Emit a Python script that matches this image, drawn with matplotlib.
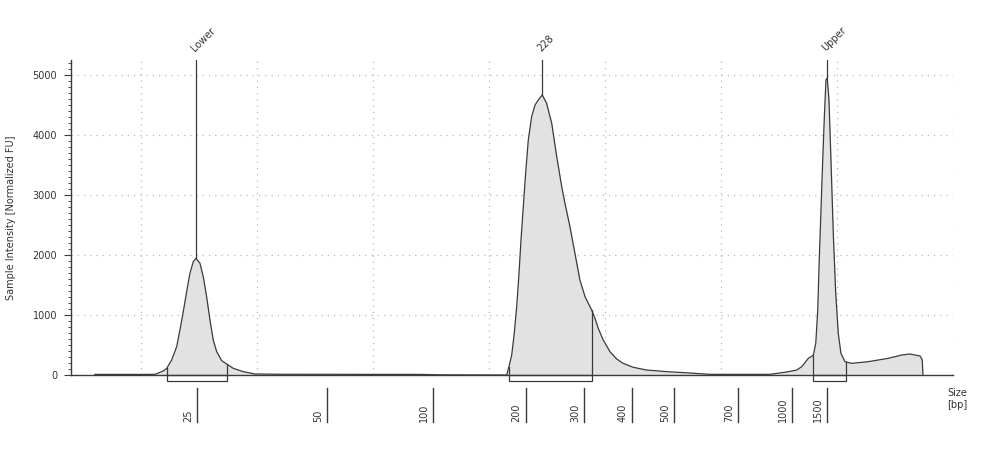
import matplotlib

matplotlib.use("Agg")
import matplotlib.pyplot as plt
import matplotlib.transforms as mtransforms
from matplotlib.patches import Rectangle
import numpy as np

# electropherogram trace: migration position (grid units) vs intensity [Normalized FU]
pos = [0.603, 1.078, 1.121, 1.192, 1.222, 1.265, 1.308, 1.336, 1.365, 1.394,
       1.422, 1.451, 1.474, 1.509, 1.537, 1.566, 1.595, 1.623, 1.653, 1.696,
       1.739, 1.796, 1.882, 1.983, 2.198, 3.405, 3.578, 4.095,
       4.153, 4.172, 4.196, 4.218, 4.239, 4.259, 4.276, 4.296, 4.316, 4.339,
       4.368, 4.397, 4.425, 4.459, 4.497, 4.541, 4.584, 4.627, 4.655, 4.698,
       4.741, 4.784, 4.828, 4.885, 4.914, 4.942, 4.985, 5.043, 5.101, 5.157,
       5.244, 5.359, 5.532, 5.733, 5.905, 6.422, 6.566, 6.653, 6.696, 6.753,
       6.796, 6.817, 6.834, 6.847, 6.862, 6.877, 6.891, 6.905, 6.916, 6.931,
       6.948, 6.968, 6.989, 7.011, 7.034, 7.069, 7.127, 7.270, 7.442, 7.558,
       7.629, 7.716, 7.735, 7.741]
fu = [10, 10, 11, 67, 111, 250, 472, 750, 1056, 1389,
      1694, 1889, 1944, 1861, 1639, 1306, 917, 583, 389, 239,
      183, 111, 56, 17, 12, 10, 3, 0,
      0, 139, 333, 694, 1139, 1694, 2250, 2806, 3361, 3917,
      4306, 4500, 4583, 4667, 4528, 4194, 3639, 3139, 2861, 2472,
      2028, 1583, 1306, 1083, 944, 778, 583, 389, 267, 194,
      128, 83, 56, 33, 11, 11, 50, 83, 139, 278,
      330, 528, 1083, 1917, 2750, 3583, 4306, 4917, 4950, 4583,
      3583, 2361, 1361, 694, 361, 222, 194, 222, 278, 333,
      350, 317, 250, 0]

# size ladder
ladder_bp = ["25", "50", "100", "200", "300", "400", "500", "700", "1000", "1500"]
ladder_pos = [1.483, 2.603, 3.517, 4.316, 4.819, 5.233, 5.595, 6.147, 6.612, 6.914]

# called peaks and their integration regions
peak_names = ["Lower", "228", "Upper"]
peak_pos = [1.474, 4.459, 6.916]
region_lo = [1.222, 4.172, 6.796]
region_hi = [1.739, 4.885, 7.075]

line_c = "#3a3a3a"
text_c = "#333333"
grid_c = "#b8b8b8"
fill_c = "#e2e2e2"

fig = plt.figure(figsize=(9.93, 4.49), dpi=100)
ax = fig.add_axes([71 / 993, 1 - 375 / 449, (953 - 71) / 993, 315 / 449])

ax.set_xlim(0.397, 8.0)
ax.set_ylim(0, 5250)

ax.fill_between(pos, fu, 0, color=fill_c, lw=0, zorder=2)
ax.plot(pos, fu, color=line_c, lw=0.9, zorder=3)

# peak marker lines + labels
top = ax.get_ylim()[1]
for name, p in zip(peak_names, peak_pos):
    y0 = np.interp(p, pos, fu)
    ax.plot([p, p], [y0, top], color=line_c, lw=0.9, zorder=4, clip_on=False)
    tr = mtransforms.offset_copy(ax.transData, fig=fig, x=-7, y=7, units="dots")
    ax.text(p, top, name, rotation=45, ha="left", va="bottom", fontsize=7,
            color=text_c, transform=tr)

# integration regions: bracket under baseline + boundary lines
for lo, hi in zip(region_lo, region_hi):
    ax.add_patch(Rectangle((lo, -100), hi - lo, 100, fill=False, ec=line_c,
                           lw=0.9, clip_on=False, zorder=4))
    for x in (lo, hi):
        ax.plot([x, x], [0, np.interp(x, pos, fu)], color=line_c, lw=0.9, zorder=4)

# ladder ticks below the axis
btr = mtransforms.blended_transform_factory(ax.transData, ax.transAxes)
for lab, p in zip(ladder_bp, ladder_pos):
    ax.plot([p, p], [-0.041, -0.149], color=line_c, lw=1.0, transform=btr, clip_on=False)
    ltr = mtransforms.offset_copy(btr, fig=fig, x=-4, y=0, units="dots")
    ax.text(p, -0.149, lab, rotation=90, ha="right", va="bottom", fontsize=7,
            color=text_c, transform=ltr)

fig.text(957 / 993, 1 - 399 / 449, "Size\n[bp]", ha="center", va="center",
         fontsize=7, color=text_c, linespacing=1.3)

# axes styling
ax.set_xticks(np.arange(1, 9))
ax.tick_params(axis="x", length=0, labelbottom=False)
ax.set_yticks(np.arange(0, 5001, 1000))
ax.set_yticks(np.arange(0, 5201, 100), minor=True)
ax.tick_params(axis="y", which="major", length=5, width=0.8, color=line_c,
               labelsize=7, labelcolor=text_c, pad=5)
ax.tick_params(axis="y", which="minor", length=2.5, width=0.6, color=line_c)
ax.grid(True, which="major", linestyle=(0, (1, 4)), color=grid_c, lw=0.9)
ax.set_axisbelow(True)
for s in ("top", "right"):
    ax.spines[s].set_visible(False)
for s in ("left", "bottom"):
    ax.spines[s].set_color(line_c)
    ax.spines[s].set_linewidth(1.0)
ax.set_ylabel("Sample Intensity [Normalized FU]", fontsize=7, color=text_c, labelpad=12)

fig.savefig("out.png", dpi=100)
